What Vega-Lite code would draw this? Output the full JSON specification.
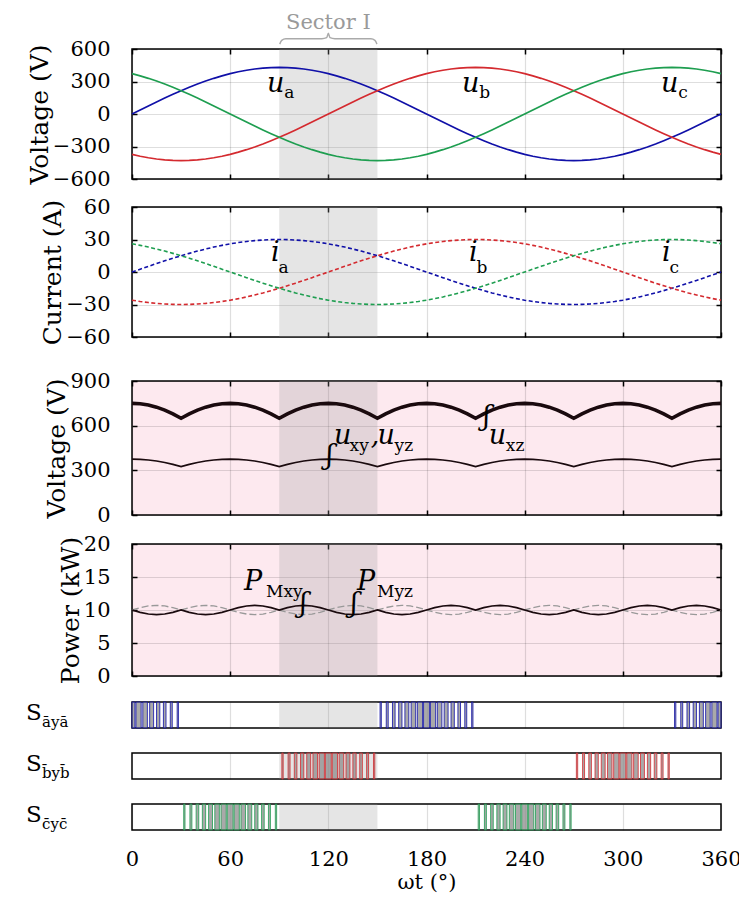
{
"$schema": "https://vega.github.io/schema/vega-lite/v6.json",
"padding": {"left": 25, "top": 10, "right": 0, "bottom": 5},
"config": {
  "view": {"stroke": "black", "strokeWidth": 1.5},
  "font": "DejaVu Serif",
  "text": {"font": "DejaVu Serif"},
  "axis": {"labelFont": "DejaVu Serif", "titleFont": "DejaVu Serif", "labelFontSize": 21, "titleFontSize": 25, "titleFontWeight": "normal", "labelColor": "black", "titleColor": "black", "gridColor": "#000", "gridOpacity": 0.13, "gridWidth": 1.2, "domain": false, "tickColor": "black", "tickSize": -5, "tickWidth": 1.5, "labelPadding": 27, "titlePadding": 0, "labelFlush": false}
},
"datasets": {
"wave": [
{"t":0,"ua":0,"ub":-372.4,"uc":372.4,"ia":0,"ib":-26,"ic":26,"uxz":750,"uxy":375,"pxy":10,"pyz":10},
{"t":5,"ua":37.5,"ub":-389.7,"uc":352.3,"ia":2.6,"ib":-27.2,"ic":24.6,"uxz":747.2,"uxy":373.6,"pxy":9.65,"pyz":10.35},
{"t":10,"ua":74.6,"ub":-404.1,"uc":329.4,"ia":5.2,"ib":-28.2,"ic":23,"uxz":738.6,"uxy":369.3,"pxy":9.39,"pyz":10.61},
{"t":15,"ua":111.3,"ub":-415.3,"uc":304.1,"ia":7.8,"ib":-29,"ic":21.2,"uxz":724.4,"uxy":362.2,"pxy":9.3,"pyz":10.7},
{"t":20,"ua":147.1,"ub":-423.5,"uc":276.4,"ia":10.3,"ib":-29.5,"ic":19.3,"uxz":704.8,"uxy":352.4,"pxy":9.39,"pyz":10.61},
{"t":25,"ua":181.7,"ub":-428.4,"uc":246.6,"ia":12.7,"ib":-29.9,"ic":17.2,"uxz":679.7,"uxy":339.9,"pxy":9.65,"pyz":10.35},
{"t":30,"ua":215,"ub":-430,"uc":215,"ia":15,"ib":-30,"ic":15,"uxz":649.5,"uxy":324.8,"pxy":10,"pyz":10},
{"t":35,"ua":246.6,"ub":-428.4,"uc":181.7,"ia":17.2,"ib":-29.9,"ic":12.7,"uxz":679.7,"uxy":339.9,"pxy":9.65,"pyz":10.35},
{"t":40,"ua":276.4,"ub":-423.5,"uc":147.1,"ia":19.3,"ib":-29.5,"ic":10.3,"uxz":704.8,"uxy":352.4,"pxy":9.39,"pyz":10.61},
{"t":45,"ua":304.1,"ub":-415.3,"uc":111.3,"ia":21.2,"ib":-29,"ic":7.8,"uxz":724.4,"uxy":362.2,"pxy":9.3,"pyz":10.7},
{"t":50,"ua":329.4,"ub":-404.1,"uc":74.6,"ia":23,"ib":-28.2,"ic":5.2,"uxz":738.6,"uxy":369.3,"pxy":9.39,"pyz":10.61},
{"t":55,"ua":352.3,"ub":-389.7,"uc":37.5,"ia":24.6,"ib":-27.2,"ic":2.6,"uxz":747.2,"uxy":373.6,"pxy":9.65,"pyz":10.35},
{"t":60,"ua":372.4,"ub":-372.4,"uc":0,"ia":26,"ib":-26,"ic":0,"uxz":750,"uxy":375,"pxy":10,"pyz":10},
{"t":65,"ua":389.7,"ub":-352.3,"uc":-37.5,"ia":27.2,"ib":-24.6,"ic":-2.6,"uxz":747.2,"uxy":373.6,"pxy":10.35,"pyz":9.65},
{"t":70,"ua":404.1,"ub":-329.4,"uc":-74.6,"ia":28.2,"ib":-23,"ic":-5.2,"uxz":738.6,"uxy":369.3,"pxy":10.61,"pyz":9.39},
{"t":75,"ua":415.3,"ub":-304.1,"uc":-111.3,"ia":29,"ib":-21.2,"ic":-7.8,"uxz":724.4,"uxy":362.2,"pxy":10.7,"pyz":9.3},
{"t":80,"ua":423.5,"ub":-276.4,"uc":-147.1,"ia":29.5,"ib":-19.3,"ic":-10.3,"uxz":704.8,"uxy":352.4,"pxy":10.61,"pyz":9.39},
{"t":85,"ua":428.4,"ub":-246.6,"uc":-181.7,"ia":29.9,"ib":-17.2,"ic":-12.7,"uxz":679.7,"uxy":339.9,"pxy":10.35,"pyz":9.65},
{"t":90,"ua":430,"ub":-215,"uc":-215,"ia":30,"ib":-15,"ic":-15,"uxz":649.5,"uxy":324.8,"pxy":10,"pyz":10},
{"t":95,"ua":428.4,"ub":-181.7,"uc":-246.6,"ia":29.9,"ib":-12.7,"ic":-17.2,"uxz":679.7,"uxy":339.9,"pxy":10.35,"pyz":9.65},
{"t":100,"ua":423.5,"ub":-147.1,"uc":-276.4,"ia":29.5,"ib":-10.3,"ic":-19.3,"uxz":704.8,"uxy":352.4,"pxy":10.61,"pyz":9.39},
{"t":105,"ua":415.3,"ub":-111.3,"uc":-304.1,"ia":29,"ib":-7.8,"ic":-21.2,"uxz":724.4,"uxy":362.2,"pxy":10.7,"pyz":9.3},
{"t":110,"ua":404.1,"ub":-74.6,"uc":-329.4,"ia":28.2,"ib":-5.2,"ic":-23,"uxz":738.6,"uxy":369.3,"pxy":10.61,"pyz":9.39},
{"t":115,"ua":389.7,"ub":-37.5,"uc":-352.3,"ia":27.2,"ib":-2.6,"ic":-24.6,"uxz":747.2,"uxy":373.6,"pxy":10.35,"pyz":9.65},
{"t":120,"ua":372.4,"ub":0,"uc":-372.4,"ia":26,"ib":0,"ic":-26,"uxz":750,"uxy":375,"pxy":10,"pyz":10},
{"t":125,"ua":352.3,"ub":37.5,"uc":-389.7,"ia":24.6,"ib":2.6,"ic":-27.2,"uxz":747.2,"uxy":373.6,"pxy":9.65,"pyz":10.35},
{"t":130,"ua":329.4,"ub":74.6,"uc":-404.1,"ia":23,"ib":5.2,"ic":-28.2,"uxz":738.6,"uxy":369.3,"pxy":9.39,"pyz":10.61},
{"t":135,"ua":304.1,"ub":111.3,"uc":-415.3,"ia":21.2,"ib":7.8,"ic":-29,"uxz":724.4,"uxy":362.2,"pxy":9.3,"pyz":10.7},
{"t":140,"ua":276.4,"ub":147.1,"uc":-423.5,"ia":19.3,"ib":10.3,"ic":-29.5,"uxz":704.8,"uxy":352.4,"pxy":9.39,"pyz":10.61},
{"t":145,"ua":246.6,"ub":181.7,"uc":-428.4,"ia":17.2,"ib":12.7,"ic":-29.9,"uxz":679.7,"uxy":339.9,"pxy":9.65,"pyz":10.35},
{"t":150,"ua":215,"ub":215,"uc":-430,"ia":15,"ib":15,"ic":-30,"uxz":649.5,"uxy":324.8,"pxy":10,"pyz":10},
{"t":155,"ua":181.7,"ub":246.6,"uc":-428.4,"ia":12.7,"ib":17.2,"ic":-29.9,"uxz":679.7,"uxy":339.9,"pxy":9.65,"pyz":10.35},
{"t":160,"ua":147.1,"ub":276.4,"uc":-423.5,"ia":10.3,"ib":19.3,"ic":-29.5,"uxz":704.8,"uxy":352.4,"pxy":9.39,"pyz":10.61},
{"t":165,"ua":111.3,"ub":304.1,"uc":-415.3,"ia":7.8,"ib":21.2,"ic":-29,"uxz":724.4,"uxy":362.2,"pxy":9.3,"pyz":10.7},
{"t":170,"ua":74.6,"ub":329.4,"uc":-404.1,"ia":5.2,"ib":23,"ic":-28.2,"uxz":738.6,"uxy":369.3,"pxy":9.39,"pyz":10.61},
{"t":175,"ua":37.5,"ub":352.3,"uc":-389.7,"ia":2.6,"ib":24.6,"ic":-27.2,"uxz":747.2,"uxy":373.6,"pxy":9.65,"pyz":10.35},
{"t":180,"ua":0,"ub":372.4,"uc":-372.4,"ia":0,"ib":26,"ic":-26,"uxz":750,"uxy":375,"pxy":10,"pyz":10},
{"t":185,"ua":-37.5,"ub":389.7,"uc":-352.3,"ia":-2.6,"ib":27.2,"ic":-24.6,"uxz":747.2,"uxy":373.6,"pxy":10.35,"pyz":9.65},
{"t":190,"ua":-74.6,"ub":404.1,"uc":-329.4,"ia":-5.2,"ib":28.2,"ic":-23,"uxz":738.6,"uxy":369.3,"pxy":10.61,"pyz":9.39},
{"t":195,"ua":-111.3,"ub":415.3,"uc":-304.1,"ia":-7.8,"ib":29,"ic":-21.2,"uxz":724.4,"uxy":362.2,"pxy":10.7,"pyz":9.3},
{"t":200,"ua":-147.1,"ub":423.5,"uc":-276.4,"ia":-10.3,"ib":29.5,"ic":-19.3,"uxz":704.8,"uxy":352.4,"pxy":10.61,"pyz":9.39},
{"t":205,"ua":-181.7,"ub":428.4,"uc":-246.6,"ia":-12.7,"ib":29.9,"ic":-17.2,"uxz":679.7,"uxy":339.9,"pxy":10.35,"pyz":9.65},
{"t":210,"ua":-215,"ub":430,"uc":-215,"ia":-15,"ib":30,"ic":-15,"uxz":649.5,"uxy":324.8,"pxy":10,"pyz":10},
{"t":215,"ua":-246.6,"ub":428.4,"uc":-181.7,"ia":-17.2,"ib":29.9,"ic":-12.7,"uxz":679.7,"uxy":339.9,"pxy":10.35,"pyz":9.65},
{"t":220,"ua":-276.4,"ub":423.5,"uc":-147.1,"ia":-19.3,"ib":29.5,"ic":-10.3,"uxz":704.8,"uxy":352.4,"pxy":10.61,"pyz":9.39},
{"t":225,"ua":-304.1,"ub":415.3,"uc":-111.3,"ia":-21.2,"ib":29,"ic":-7.8,"uxz":724.4,"uxy":362.2,"pxy":10.7,"pyz":9.3},
{"t":230,"ua":-329.4,"ub":404.1,"uc":-74.6,"ia":-23,"ib":28.2,"ic":-5.2,"uxz":738.6,"uxy":369.3,"pxy":10.61,"pyz":9.39},
{"t":235,"ua":-352.3,"ub":389.7,"uc":-37.5,"ia":-24.6,"ib":27.2,"ic":-2.6,"uxz":747.2,"uxy":373.6,"pxy":10.35,"pyz":9.65},
{"t":240,"ua":-372.4,"ub":372.4,"uc":0,"ia":-26,"ib":26,"ic":0,"uxz":750,"uxy":375,"pxy":10,"pyz":10},
{"t":245,"ua":-389.7,"ub":352.3,"uc":37.5,"ia":-27.2,"ib":24.6,"ic":2.6,"uxz":747.2,"uxy":373.6,"pxy":9.65,"pyz":10.35},
{"t":250,"ua":-404.1,"ub":329.4,"uc":74.6,"ia":-28.2,"ib":23,"ic":5.2,"uxz":738.6,"uxy":369.3,"pxy":9.39,"pyz":10.61},
{"t":255,"ua":-415.3,"ub":304.1,"uc":111.3,"ia":-29,"ib":21.2,"ic":7.8,"uxz":724.4,"uxy":362.2,"pxy":9.3,"pyz":10.7},
{"t":260,"ua":-423.5,"ub":276.4,"uc":147.1,"ia":-29.5,"ib":19.3,"ic":10.3,"uxz":704.8,"uxy":352.4,"pxy":9.39,"pyz":10.61},
{"t":265,"ua":-428.4,"ub":246.6,"uc":181.7,"ia":-29.9,"ib":17.2,"ic":12.7,"uxz":679.7,"uxy":339.9,"pxy":9.65,"pyz":10.35},
{"t":270,"ua":-430,"ub":215,"uc":215,"ia":-30,"ib":15,"ic":15,"uxz":649.5,"uxy":324.8,"pxy":10,"pyz":10},
{"t":275,"ua":-428.4,"ub":181.7,"uc":246.6,"ia":-29.9,"ib":12.7,"ic":17.2,"uxz":679.7,"uxy":339.9,"pxy":9.65,"pyz":10.35},
{"t":280,"ua":-423.5,"ub":147.1,"uc":276.4,"ia":-29.5,"ib":10.3,"ic":19.3,"uxz":704.8,"uxy":352.4,"pxy":9.39,"pyz":10.61},
{"t":285,"ua":-415.3,"ub":111.3,"uc":304.1,"ia":-29,"ib":7.8,"ic":21.2,"uxz":724.4,"uxy":362.2,"pxy":9.3,"pyz":10.7},
{"t":290,"ua":-404.1,"ub":74.6,"uc":329.4,"ia":-28.2,"ib":5.2,"ic":23,"uxz":738.6,"uxy":369.3,"pxy":9.39,"pyz":10.61},
{"t":295,"ua":-389.7,"ub":37.5,"uc":352.3,"ia":-27.2,"ib":2.6,"ic":24.6,"uxz":747.2,"uxy":373.6,"pxy":9.65,"pyz":10.35},
{"t":300,"ua":-372.4,"ub":0,"uc":372.4,"ia":-26,"ib":0,"ic":26,"uxz":750,"uxy":375,"pxy":10,"pyz":10},
{"t":305,"ua":-352.3,"ub":-37.5,"uc":389.7,"ia":-24.6,"ib":-2.6,"ic":27.2,"uxz":747.2,"uxy":373.6,"pxy":10.35,"pyz":9.65},
{"t":310,"ua":-329.4,"ub":-74.6,"uc":404.1,"ia":-23,"ib":-5.2,"ic":28.2,"uxz":738.6,"uxy":369.3,"pxy":10.61,"pyz":9.39},
{"t":315,"ua":-304.1,"ub":-111.3,"uc":415.3,"ia":-21.2,"ib":-7.8,"ic":29,"uxz":724.4,"uxy":362.2,"pxy":10.7,"pyz":9.3},
{"t":320,"ua":-276.4,"ub":-147.1,"uc":423.5,"ia":-19.3,"ib":-10.3,"ic":29.5,"uxz":704.8,"uxy":352.4,"pxy":10.61,"pyz":9.39},
{"t":325,"ua":-246.6,"ub":-181.7,"uc":428.4,"ia":-17.2,"ib":-12.7,"ic":29.9,"uxz":679.7,"uxy":339.9,"pxy":10.35,"pyz":9.65},
{"t":330,"ua":-215,"ub":-215,"uc":430,"ia":-15,"ib":-15,"ic":30,"uxz":649.5,"uxy":324.8,"pxy":10,"pyz":10},
{"t":335,"ua":-181.7,"ub":-246.6,"uc":428.4,"ia":-12.7,"ib":-17.2,"ic":29.9,"uxz":679.7,"uxy":339.9,"pxy":10.35,"pyz":9.65},
{"t":340,"ua":-147.1,"ub":-276.4,"uc":423.5,"ia":-10.3,"ib":-19.3,"ic":29.5,"uxz":704.8,"uxy":352.4,"pxy":10.61,"pyz":9.39},
{"t":345,"ua":-111.3,"ub":-304.1,"uc":415.3,"ia":-7.8,"ib":-21.2,"ic":29,"uxz":724.4,"uxy":362.2,"pxy":10.7,"pyz":9.3},
{"t":350,"ua":-74.6,"ub":-329.4,"uc":404.1,"ia":-5.2,"ib":-23,"ic":28.2,"uxz":738.6,"uxy":369.3,"pxy":10.61,"pyz":9.39},
{"t":355,"ua":-37.5,"ub":-352.3,"uc":389.7,"ia":-2.6,"ib":-24.6,"ic":27.2,"uxz":747.2,"uxy":373.6,"pxy":10.35,"pyz":9.65},
{"t":360,"ua":0,"ub":-372.4,"uc":372.4,"ia":0,"ib":-26,"ic":26,"uxz":750,"uxy":375,"pxy":10,"pyz":10}
],
"pulses": [
{"ph":"a","x1":0,"x2":1.8},{"ph":"a","x1":2.4,"x2":5.6},{"ph":"a","x1":6.6,"x2":9.4},{"ph":"a","x1":10.8,"x2":13.2},{"ph":"a","x1":15,"x2":17},{"ph":"a","x1":19.2,"x2":20.8},{"ph":"a","x1":23.4,"x2":24.6},{"ph":"a","x1":27.6,"x2":28.4},
{"ph":"a","x1":151.6,"x2":152.4},{"ph":"a","x1":155.4,"x2":156.6},{"ph":"a","x1":159.2,"x2":160.8},{"ph":"a","x1":163,"x2":165},{"ph":"a","x1":166.8,"x2":169.2},{"ph":"a","x1":170.6,"x2":173.4},{"ph":"a","x1":174.4,"x2":177.6},{"ph":"a","x1":178.2,"x2":181.8},{"ph":"a","x1":182.4,"x2":185.6},{"ph":"a","x1":186.6,"x2":189.4},{"ph":"a","x1":190.8,"x2":193.2},{"ph":"a","x1":195,"x2":197},{"ph":"a","x1":199.2,"x2":200.8},{"ph":"a","x1":203.4,"x2":204.6},{"ph":"a","x1":207.6,"x2":208.4},
{"ph":"a","x1":331.6,"x2":332.4},{"ph":"a","x1":335.4,"x2":336.6},{"ph":"a","x1":339.2,"x2":340.8},{"ph":"a","x1":343,"x2":345},{"ph":"a","x1":346.8,"x2":349.2},{"ph":"a","x1":350.6,"x2":353.4},{"ph":"a","x1":354.4,"x2":357.6},{"ph":"a","x1":358.2,"x2":360},
{"ph":"b","x1":91.6,"x2":92.4},{"ph":"b","x1":95.4,"x2":96.6},{"ph":"b","x1":99.2,"x2":100.8},{"ph":"b","x1":103,"x2":105},{"ph":"b","x1":106.8,"x2":109.2},{"ph":"b","x1":110.6,"x2":113.4},{"ph":"b","x1":114.4,"x2":117.6},{"ph":"b","x1":118.2,"x2":121.8},{"ph":"b","x1":122.4,"x2":125.6},{"ph":"b","x1":126.6,"x2":129.4},{"ph":"b","x1":130.8,"x2":133.2},{"ph":"b","x1":135,"x2":137},{"ph":"b","x1":139.2,"x2":140.8},{"ph":"b","x1":143.4,"x2":144.6},{"ph":"b","x1":147.6,"x2":148.4},
{"ph":"b","x1":271.6,"x2":272.4},{"ph":"b","x1":275.4,"x2":276.6},{"ph":"b","x1":279.2,"x2":280.8},{"ph":"b","x1":283,"x2":285},{"ph":"b","x1":286.8,"x2":289.2},{"ph":"b","x1":290.6,"x2":293.4},{"ph":"b","x1":294.4,"x2":297.6},{"ph":"b","x1":298.2,"x2":301.8},{"ph":"b","x1":302.4,"x2":305.6},{"ph":"b","x1":306.6,"x2":309.4},{"ph":"b","x1":310.8,"x2":313.2},{"ph":"b","x1":315,"x2":317},{"ph":"b","x1":319.2,"x2":320.8},{"ph":"b","x1":323.4,"x2":324.6},{"ph":"b","x1":327.6,"x2":328.4},
{"ph":"c","x1":31.6,"x2":32.4},{"ph":"c","x1":35.4,"x2":36.6},{"ph":"c","x1":39.2,"x2":40.8},{"ph":"c","x1":43,"x2":45},{"ph":"c","x1":46.8,"x2":49.2},{"ph":"c","x1":50.6,"x2":53.4},{"ph":"c","x1":54.4,"x2":57.6},{"ph":"c","x1":58.2,"x2":61.8},{"ph":"c","x1":62.4,"x2":65.6},{"ph":"c","x1":66.6,"x2":69.4},{"ph":"c","x1":70.8,"x2":73.2},{"ph":"c","x1":75,"x2":77},{"ph":"c","x1":79.2,"x2":80.8},{"ph":"c","x1":83.4,"x2":84.6},{"ph":"c","x1":87.6,"x2":88.4},
{"ph":"c","x1":211.6,"x2":212.4},{"ph":"c","x1":215.4,"x2":216.6},{"ph":"c","x1":219.2,"x2":220.8},{"ph":"c","x1":223,"x2":225},{"ph":"c","x1":226.8,"x2":229.2},{"ph":"c","x1":230.6,"x2":233.4},{"ph":"c","x1":234.4,"x2":237.6},{"ph":"c","x1":238.2,"x2":241.8},{"ph":"c","x1":242.4,"x2":245.6},{"ph":"c","x1":246.6,"x2":249.4},{"ph":"c","x1":250.8,"x2":253.2},{"ph":"c","x1":255,"x2":257},{"ph":"c","x1":259.2,"x2":260.8},{"ph":"c","x1":263.4,"x2":264.6},{"ph":"c","x1":267.6,"x2":268.4}
]
},
"spacing": 21,
"vconcat": [
{"spacing": 28, "bounds": "flush", "vconcat": [
 {"width": 589, "height": 130,
  "resolve": {"axis": {"x": "independent", "y": "independent"}},
  "layer": [
   {"data": {"values": [{}]}, "mark": {"type": "rect", "color": "#999", "opacity": 0.25},
    "encoding": {
     "x": {"datum": 90, "type": "quantitative", "scale": {"domain": [0, 360], "nice": false}, "axis": {"orient": "top", "values": [0,60,120,180,240,300,360], "labels": false, "grid": false, "title": null}},
     "x2": {"datum": 150},
     "y": {"datum": -600, "type": "quantitative", "scale": {"domain": [-600, 600], "nice": false}, "axis": {"orient": "right", "values": [-600,-300,0,300,600], "labels": false, "grid": false, "title": null}},
     "y2": {"datum": 600}}},
   {"data": {"name": "wave"}, "transform": [{"fold": ["ua", "ub", "uc"], "as": ["ph", "v"]}],
    "mark": {"type": "line", "strokeWidth": 1.7},
    "encoding": {
     "x": {"field": "t", "type": "quantitative", "scale": {"domain": [0, 360], "nice": false}, "axis": {"values": [0,60,120,180,240,300,360], "labels": false, "grid": true, "title": null}},
     "y": {"field": "v", "type": "quantitative", "scale": {"domain": [-600, 600], "nice": false}, "axis": {"values": [-600,-300,0,300,600], "grid": true, "title": "Voltage (V)"}},
     "color": {"field": "ph", "type": "nominal", "scale": {"domain": ["ua", "ub", "uc"], "range": ["#1010a8", "#d42a2f", "#1e9e50"]}, "legend": null}}},
   {"data": {"values": [{"t": 90.3, "v": 645}, {"t": 91.5, "v": 680}, {"t": 94, "v": 695}, {"t": 116, "v": 695}, {"t": 119, "v": 705}, {"t": 120, "v": 745}, {"t": 121, "v": 705}, {"t": 124, "v": 695}, {"t": 146, "v": 695}, {"t": 148.5, "v": 680}, {"t": 149.7, "v": 645}]},
    "mark": {"type": "line", "color": "#aaa", "strokeWidth": 1.4, "interpolate": "monotone"},
    "encoding": {"x": {"field": "t", "type": "quantitative", "scale": {"domain": [0, 360], "nice": false}, "axis": null}, "y": {"field": "v", "type": "quantitative", "scale": {"domain": [-600, 600], "nice": false}, "axis": null}}},
   {"data": {"values": [{"t": 120, "v": 787, "s": "Sector I"}]},
    "mark": {"type": "text", "fontSize": 21, "color": "#9a9a9a", "align": "center", "baseline": "alphabetic"},
    "encoding": {"x": {"field": "t", "type": "quantitative", "scale": {"domain": [0, 360], "nice": false}, "axis": null}, "y": {"field": "v", "type": "quantitative", "scale": {"domain": [-600, 600], "nice": false}, "axis": null}, "text": {"field": "s"}}},
   {"data": {"values": [{"t": 82.5, "v": 206, "s": "u"}, {"t": 201.7, "v": 206, "s": "u"}, {"t": 323.3, "v": 206, "s": "u"}]},
    "mark": {"type": "text", "fontSize": 27, "fontStyle": "italic", "color": "black", "align": "left", "baseline": "alphabetic"},
    "encoding": {"x": {"field": "t", "type": "quantitative", "scale": {"domain": [0, 360], "nice": false}, "axis": null}, "y": {"field": "v", "type": "quantitative", "scale": {"domain": [-600, 600], "nice": false}, "axis": null}, "text": {"field": "s"}}},
   {"data": {"values": [{"t": 93, "v": 150, "s": "a"}, {"t": 212.2, "v": 150, "s": "b"}, {"t": 333.8, "v": 150, "s": "c"}]},
    "mark": {"type": "text", "fontSize": 17, "color": "black", "align": "left", "baseline": "alphabetic"},
    "encoding": {"x": {"field": "t", "type": "quantitative", "scale": {"domain": [0, 360], "nice": false}, "axis": null}, "y": {"field": "v", "type": "quantitative", "scale": {"domain": [-600, 600], "nice": false}, "axis": null}, "text": {"field": "s"}}}
  ]},
 {"width": 589, "height": 130,
  "resolve": {"axis": {"x": "independent", "y": "independent"}},
  "layer": [
   {"data": {"values": [{}]}, "mark": {"type": "rect", "color": "#999", "opacity": 0.25},
    "encoding": {
     "x": {"datum": 90, "type": "quantitative", "scale": {"domain": [0, 360], "nice": false}, "axis": {"orient": "top", "values": [0,60,120,180,240,300,360], "labels": false, "grid": false, "title": null}},
     "x2": {"datum": 150},
     "y": {"datum": -60, "type": "quantitative", "scale": {"domain": [-60, 60], "nice": false}, "axis": {"orient": "right", "values": [-60,-30,0,30,60], "labels": false, "grid": false, "title": null}},
     "y2": {"datum": 60}}},
   {"data": {"name": "wave"}, "transform": [{"fold": ["ia", "ib", "ic"], "as": ["ph", "v"]}],
    "mark": {"type": "line", "strokeWidth": 1.6, "strokeDash": [4, 2.5]},
    "encoding": {
     "x": {"field": "t", "type": "quantitative", "scale": {"domain": [0, 360], "nice": false}, "axis": {"values": [0,60,120,180,240,300,360], "labels": false, "grid": true, "title": null}},
     "y": {"field": "v", "type": "quantitative", "scale": {"domain": [-60, 60], "nice": false}, "axis": {"values": [-60,-30,0,30,60], "grid": true, "title": "Current (A)"}},
     "color": {"field": "ph", "type": "nominal", "scale": {"domain": ["ia", "ib", "ic"], "range": ["#1010a8", "#d42a2f", "#1e9e50"]}, "legend": null}}},
   {"data": {"values": [{"t": 85, "v": 10, "s": "i"}, {"t": 206, "v": 10, "s": "i"}, {"t": 324, "v": 10, "s": "i"}]},
    "mark": {"type": "text", "fontSize": 27, "fontStyle": "italic", "color": "black", "align": "left", "baseline": "alphabetic"},
    "encoding": {"x": {"field": "t", "type": "quantitative", "scale": {"domain": [0, 360], "nice": false}, "axis": null}, "y": {"field": "v", "type": "quantitative", "scale": {"domain": [-60, 60], "nice": false}, "axis": null}, "text": {"field": "s"}}},
   {"data": {"values": [{"t": 89.5, "v": -1, "s": "a"}, {"t": 210.5, "v": -1, "s": "b"}, {"t": 328.5, "v": -1, "s": "c"}]},
    "mark": {"type": "text", "fontSize": 17, "color": "black", "align": "left", "baseline": "alphabetic"},
    "encoding": {"x": {"field": "t", "type": "quantitative", "scale": {"domain": [0, 360], "nice": false}, "axis": null}, "y": {"field": "v", "type": "quantitative", "scale": {"domain": [-60, 60], "nice": false}, "axis": null}, "text": {"field": "s"}}}
  ]}
]},
{"spacing": 13, "vconcat": [
 {"spacing": 29, "bounds": "flush", "vconcat": [
  {"width": 589, "height": 134,
   "view": {"fill": "#fde9ef", "stroke": "black", "strokeWidth": 1.5},
   "resolve": {"axis": {"x": "independent", "y": "independent"}},
   "layer": [
    {"data": {"values": [{}]}, "mark": {"type": "rect", "color": "#999", "opacity": 0.25},
     "encoding": {
      "x": {"datum": 90, "type": "quantitative", "scale": {"domain": [0, 360], "nice": false}, "axis": {"orient": "top", "values": [0,60,120,180,240,300,360], "labels": false, "grid": false, "title": null}},
      "x2": {"datum": 150},
      "y": {"datum": 0, "type": "quantitative", "scale": {"domain": [0, 900], "nice": false}, "axis": {"orient": "right", "values": [0,300,600,900], "labels": false, "grid": false, "title": null}},
      "y2": {"datum": 900}}},
    {"data": {"name": "wave"},
     "mark": {"type": "line", "strokeWidth": 1.6, "color": "#1a0a0e"},
     "encoding": {
      "x": {"field": "t", "type": "quantitative", "scale": {"domain": [0, 360], "nice": false}, "axis": {"values": [0,60,120,180,240,300,360], "labels": false, "grid": true, "title": null}},
      "y": {"field": "uxy", "type": "quantitative", "scale": {"domain": [0, 900], "nice": false}, "axis": {"values": [0,300,600,900], "grid": true, "title": "Voltage (V)"}}}},
    {"data": {"name": "wave"},
     "mark": {"type": "line", "strokeWidth": 3.6, "color": "#1a0a0e"},
     "encoding": {
      "x": {"field": "t", "type": "quantitative", "scale": {"domain": [0, 360], "nice": false}, "axis": null},
      "y": {"field": "uxz", "type": "quantitative", "scale": {"domain": [0, 900], "nice": false}, "axis": null}}},
    {"data": {"values": [{"t": 123.5, "v": 477, "s": "u"}, {"t": 146, "v": 477, "s": ","}, {"t": 150, "v": 477, "s": "u"}, {"t": 218, "v": 477, "s": "u"}, {"t": 118.5, "v": 345, "s": "ʃ"}, {"t": 214.5, "v": 605, "s": "ʃ"}]},
     "mark": {"type": "text", "fontSize": 27, "fontStyle": "italic", "color": "black", "align": "left", "baseline": "alphabetic"},
     "encoding": {"x": {"field": "t", "type": "quantitative", "scale": {"domain": [0, 360], "nice": false}, "axis": null}, "y": {"field": "v", "type": "quantitative", "scale": {"domain": [0, 900], "nice": false}, "axis": null}, "text": {"field": "s"}}},
    {"data": {"values": [{"t": 133, "v": 432, "s": "xy"}, {"t": 160.5, "v": 432, "s": "yz"}, {"t": 228.5, "v": 432, "s": "xz"}]},
     "mark": {"type": "text", "fontSize": 17, "color": "black", "align": "left", "baseline": "alphabetic"},
     "encoding": {"x": {"field": "t", "type": "quantitative", "scale": {"domain": [0, 360], "nice": false}, "axis": null}, "y": {"field": "v", "type": "quantitative", "scale": {"domain": [0, 900], "nice": false}, "axis": null}, "text": {"field": "s"}}}
   ]},
  {"width": 589, "height": 132,
   "view": {"fill": "#fde9ef", "stroke": "black", "strokeWidth": 1.5},
   "resolve": {"axis": {"x": "independent", "y": "independent"}},
   "layer": [
    {"data": {"values": [{}]}, "mark": {"type": "rect", "color": "#999", "opacity": 0.25},
     "encoding": {
      "x": {"datum": 90, "type": "quantitative", "scale": {"domain": [0, 360], "nice": false}, "axis": {"orient": "top", "values": [0,60,120,180,240,300,360], "labels": false, "grid": false, "title": null}},
      "x2": {"datum": 150},
      "y": {"datum": 0, "type": "quantitative", "scale": {"domain": [0, 20], "nice": false}, "axis": {"orient": "right", "values": [0,5,10,15,20], "labels": false, "grid": false, "title": null}},
      "y2": {"datum": 20}}},
    {"data": {"name": "wave"},
     "mark": {"type": "line", "strokeWidth": 1.3, "color": "#999", "strokeDash": [7, 3]},
     "encoding": {
      "x": {"field": "t", "type": "quantitative", "scale": {"domain": [0, 360], "nice": false}, "axis": {"values": [0,60,120,180,240,300,360], "labels": false, "grid": true, "title": null}},
      "y": {"field": "pyz", "type": "quantitative", "scale": {"domain": [0, 20], "nice": false}, "axis": {"values": [0,5,10,15,20], "grid": true, "title": "Power (kW)"}}}},
    {"data": {"name": "wave"},
     "mark": {"type": "line", "strokeWidth": 1.7, "color": "#1a0a0e"},
     "encoding": {
      "x": {"field": "t", "type": "quantitative", "scale": {"domain": [0, 360], "nice": false}, "axis": null},
      "y": {"field": "pxy", "type": "quantitative", "scale": {"domain": [0, 20], "nice": false}, "axis": null}}},
    {"data": {"values": [{"t": 68.5, "v": 13, "s": "P"}, {"t": 137.5, "v": 13, "s": "P"}, {"t": 102.5, "v": 9.7, "s": "ʃ"}, {"t": 133.5, "v": 9.7, "s": "ʃ"}]},
     "mark": {"type": "text", "fontSize": 27, "fontStyle": "italic", "color": "black", "align": "left", "baseline": "alphabetic"},
     "encoding": {"x": {"field": "t", "type": "quantitative", "scale": {"domain": [0, 360], "nice": false}, "axis": null}, "y": {"field": "v", "type": "quantitative", "scale": {"domain": [0, 20], "nice": false}, "axis": null}, "text": {"field": "s"}}},
    {"data": {"values": [{"t": 81.9, "v": 11.9, "s": "Mxy"}, {"t": 149.8, "v": 11.9, "s": "Myz"}]},
     "mark": {"type": "text", "fontSize": 17, "color": "black", "align": "left", "baseline": "alphabetic"},
     "encoding": {"x": {"field": "t", "type": "quantitative", "scale": {"domain": [0, 360], "nice": false}, "axis": null}, "y": {"field": "v", "type": "quantitative", "scale": {"domain": [0, 20], "nice": false}, "axis": null}, "text": {"field": "s"}}}
   ]}
 ]},
 {"spacing": 25, "bounds": "flush", "vconcat": [
  {"width": 589, "height": 26,
   "resolve": {"axis": {"x": "independent", "y": "independent"}},
   "layer": [
    {"data": {"values": [{}]}, "mark": {"type": "rect", "color": "#999", "opacity": 0.25},
     "encoding": {
      "x": {"datum": 90, "type": "quantitative", "scale": {"domain": [0, 360], "nice": false}, "axis": {"values": [60,120,180,240,300], "labels": false, "ticks": false, "grid": true, "title": null}},
      "x2": {"datum": 150},
      "y": {"datum": 0, "type": "quantitative", "scale": {"domain": [0, 1], "nice": false}, "axis": null},
      "y2": {"datum": 1}}},
    {"data": {"name": "pulses"}, "transform": [{"filter": {"field": "ph", "equal": "a"}}],
     "mark": {"type": "rect", "fill": "#8c8c8c", "fillOpacity": 0.75, "stroke": "#1010a8", "strokeOpacity": 0.8, "strokeWidth": 1},
     "encoding": {
      "x": {"field": "x1", "type": "quantitative", "scale": {"domain": [0, 360], "nice": false}, "axis": null},
      "x2": {"field": "x2"},
      "y": {"datum": 0, "type": "quantitative", "scale": {"domain": [0, 1], "nice": false}, "axis": null},
      "y2": {"datum": 1}}},
    {"data": {"values": [{"t": -64.8, "v": 0.3, "s": "S"}]},
     "mark": {"type": "text", "fontSize": 23, "color": "black", "align": "left", "baseline": "alphabetic"},
     "encoding": {"x": {"field": "t", "type": "quantitative", "scale": {"domain": [0, 360], "nice": false}, "axis": null}, "y": {"field": "v", "type": "quantitative", "scale": {"domain": [0, 1], "nice": false}, "axis": null}, "text": {"field": "s"}}},
    {"data": {"values": [{"t": -55, "v": 0.02, "s": "āyā"}]},
     "mark": {"type": "text", "fontSize": 15, "color": "black", "align": "left", "baseline": "alphabetic"},
     "encoding": {"x": {"field": "t", "type": "quantitative", "scale": {"domain": [0, 360], "nice": false}, "axis": null}, "y": {"field": "v", "type": "quantitative", "scale": {"domain": [0, 1], "nice": false}, "axis": null}, "text": {"field": "s"}}}
   ]},
  {"width": 589, "height": 26,
   "resolve": {"axis": {"x": "independent", "y": "independent"}},
   "layer": [
    {"data": {"values": [{}]}, "mark": {"type": "rect", "color": "#999", "opacity": 0.25},
     "encoding": {
      "x": {"datum": 90, "type": "quantitative", "scale": {"domain": [0, 360], "nice": false}, "axis": {"values": [60,120,180,240,300], "labels": false, "ticks": false, "grid": true, "title": null}},
      "x2": {"datum": 150},
      "y": {"datum": 0, "type": "quantitative", "scale": {"domain": [0, 1], "nice": false}, "axis": null},
      "y2": {"datum": 1}}},
    {"data": {"name": "pulses"}, "transform": [{"filter": {"field": "ph", "equal": "b"}}],
     "mark": {"type": "rect", "fill": "#8c8c8c", "fillOpacity": 0.75, "stroke": "#d42a2f", "strokeOpacity": 0.8, "strokeWidth": 1},
     "encoding": {
      "x": {"field": "x1", "type": "quantitative", "scale": {"domain": [0, 360], "nice": false}, "axis": null},
      "x2": {"field": "x2"},
      "y": {"datum": 0, "type": "quantitative", "scale": {"domain": [0, 1], "nice": false}, "axis": null},
      "y2": {"datum": 1}}},
    {"data": {"values": [{"t": -64.8, "v": 0.3, "s": "S"}]},
     "mark": {"type": "text", "fontSize": 23, "color": "black", "align": "left", "baseline": "alphabetic"},
     "encoding": {"x": {"field": "t", "type": "quantitative", "scale": {"domain": [0, 360], "nice": false}, "axis": null}, "y": {"field": "v", "type": "quantitative", "scale": {"domain": [0, 1], "nice": false}, "axis": null}, "text": {"field": "s"}}},
    {"data": {"values": [{"t": -55, "v": 0.02, "s": "b̄yb̄"}]},
     "mark": {"type": "text", "fontSize": 15, "color": "black", "align": "left", "baseline": "alphabetic"},
     "encoding": {"x": {"field": "t", "type": "quantitative", "scale": {"domain": [0, 360], "nice": false}, "axis": null}, "y": {"field": "v", "type": "quantitative", "scale": {"domain": [0, 1], "nice": false}, "axis": null}, "text": {"field": "s"}}}
   ]},
  {"width": 589, "height": 26,
   "resolve": {"axis": {"x": "independent", "y": "independent"}},
   "layer": [
    {"data": {"values": [{}]}, "mark": {"type": "rect", "color": "#999", "opacity": 0.25},
     "encoding": {
      "x": {"datum": 90, "type": "quantitative", "scale": {"domain": [0, 360], "nice": false}, "axis": {"values": [0,60,120,180,240,300,360], "labels": true, "ticks": false, "grid": true, "labelPadding": 18, "title": "ωt (°)", "titleFontSize": 21, "titlePadding": 2}},
      "x2": {"datum": 150},
      "y": {"datum": 0, "type": "quantitative", "scale": {"domain": [0, 1], "nice": false}, "axis": null},
      "y2": {"datum": 1}}},
    {"data": {"name": "pulses"}, "transform": [{"filter": {"field": "ph", "equal": "c"}}],
     "mark": {"type": "rect", "fill": "#8c8c8c", "fillOpacity": 0.75, "stroke": "#1e9e50", "strokeOpacity": 0.8, "strokeWidth": 1},
     "encoding": {
      "x": {"field": "x1", "type": "quantitative", "scale": {"domain": [0, 360], "nice": false}, "axis": null},
      "x2": {"field": "x2"},
      "y": {"datum": 0, "type": "quantitative", "scale": {"domain": [0, 1], "nice": false}, "axis": null},
      "y2": {"datum": 1}}},
    {"data": {"values": [{"t": -64.8, "v": 0.3, "s": "S"}]},
     "mark": {"type": "text", "fontSize": 23, "color": "black", "align": "left", "baseline": "alphabetic"},
     "encoding": {"x": {"field": "t", "type": "quantitative", "scale": {"domain": [0, 360], "nice": false}, "axis": null}, "y": {"field": "v", "type": "quantitative", "scale": {"domain": [0, 1], "nice": false}, "axis": null}, "text": {"field": "s"}}},
    {"data": {"values": [{"t": -55, "v": 0.02, "s": "c̄yc̄"}]},
     "mark": {"type": "text", "fontSize": 15, "color": "black", "align": "left", "baseline": "alphabetic"},
     "encoding": {"x": {"field": "t", "type": "quantitative", "scale": {"domain": [0, 360], "nice": false}, "axis": null}, "y": {"field": "v", "type": "quantitative", "scale": {"domain": [0, 1], "nice": false}, "axis": null}, "text": {"field": "s"}}}
   ]}
 ]}
]}
]
}
